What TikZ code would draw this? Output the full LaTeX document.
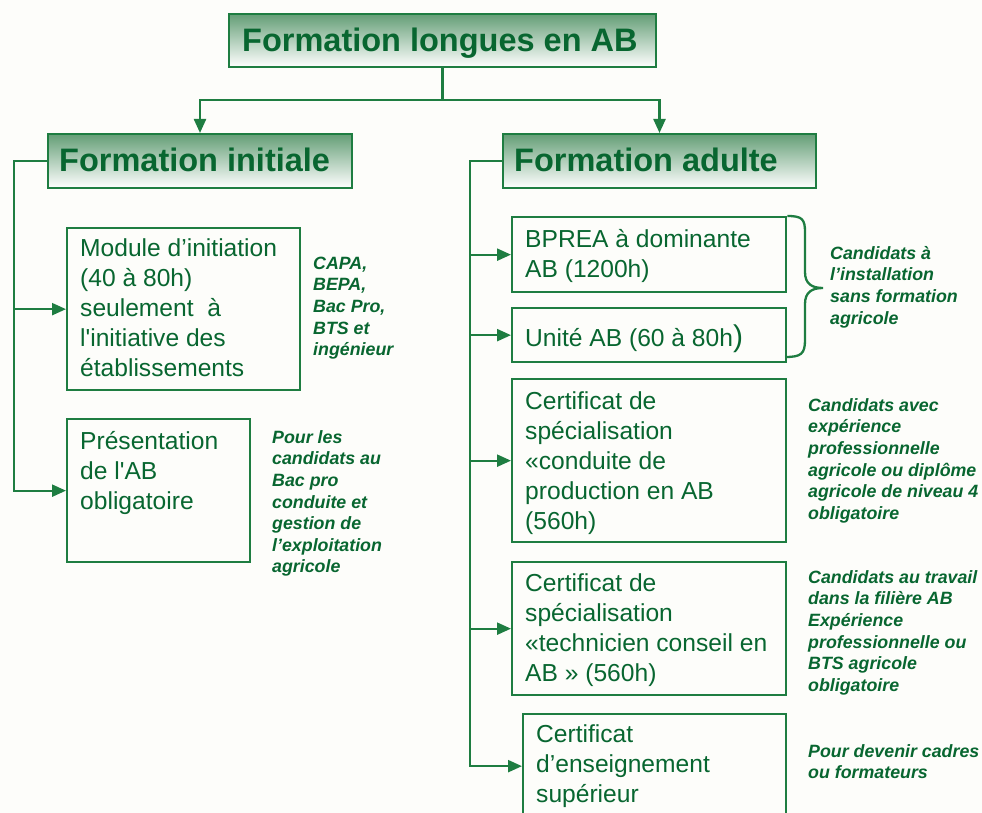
\documentclass[tikz,border=0pt]{standalone}
\usepackage{fontspec}
\setmainfont{Liberation Sans}
\usetikzlibrary{arrows.meta}
\definecolor{lgreen}{RGB}{30,125,65}
\definecolor{tgreen}{RGB}{8,102,48}
\definecolor{gtop}{RGB}{100,158,118}
\definecolor{bg}{RGB}{253,253,250}
\tikzset{
  box/.style={draw=lgreen, line width=2.3pt, anchor=north west, inner sep=0pt},
  hbox/.style={box, top color=gtop, bottom color=white, line width=2pt},
  ln/.style={draw=lgreen, line width=2.3pt},
  arr/.style={ln, -{Triangle[length=14pt,width=12pt]}},
  txt/.style={anchor=north west, inner sep=0pt, align=left, text=tgreen,
    font=\fontsize{24.6}{30}\selectfont},
  side/.style={anchor=north west, inner sep=0pt, align=left, text=tgreen,
    font=\fontsize{17.8}{21.6}\selectfont\bfseries\itshape},
  htxt/.style={anchor=base west, inner sep=0pt, text=tgreen,
    font=\fontsize{32.5}{36}\selectfont\bfseries}
}
\begin{document}
\begin{tikzpicture}[x=1pt,y=-1pt]
\path[use as bounding box, fill=bg] (0,0) rectangle (982,813);

% header boxes
\node[hbox, minimum width=427pt, minimum height=53pt] (top) at (228,13) {};
\node[hbox, minimum width=304pt, minimum height=54pt] (fi) at (47,133) {};
\node[hbox, minimum width=313pt, minimum height=54pt] (fa) at (502,133) {};
\node[htxt] (topT) at (242,52) {Formation longues en AB};
\node[htxt] (fiT) at (59,172) {Formation initiale};
\node[htxt] (faT) at (514,172) {Formation adulte};

% left boxes
\node[box, minimum width=233pt, minimum height=162pt] (module) at (66,227) {};
\node[box, minimum width=183pt, minimum height=143pt] (pres) at (66,418) {};
\node[txt] (moduleT) at (80,235) {\strut Module d’initiation\\(40 à 80h)\\seulement~ à\\l\textquotesingle initiative des\\établissements};
\node[txt] (presT) at (80,428) {\strut Présentation\\de l\textquotesingle AB\\obligatoire};

% right boxes
\node[box, minimum width=274pt, minimum height=75pt] (bprea) at (511,216) {};
\node[box, minimum width=274pt, minimum height=54pt] (unite) at (511,307) {};
\node[box, minimum width=274pt, minimum height=163pt] (csa) at (511,378) {};
\node[box, minimum width=274pt, minimum height=133pt] (csb) at (511,561) {};
\node[box, minimum width=263pt, minimum height=104pt] (ces) at (522,713) {};
\node[txt] (bpreaT) at (525,226) {\strut BPREA à dominante\\AB (1200h)};
\node[txt] (uniteT) at (525,325) {\strut Unité AB (60 à 80h{\fontsize{30}{30}\selectfont )}};
\node[txt] (csaT) at (525,388) {\strut Certificat de\\spécialisation\\«conduite de\\production en AB\\(560h)};
\node[txt] (csbT) at (525,570) {\strut Certificat de\\spécialisation\\«technicien conseil en\\AB » (560h)};
\node[txt] (cesT) at (536,721) {\strut Certificat\\d’enseignement\\supérieur};

% side notes
\node[side] (capa) at (313,254) {\strut CAPA,\\BEPA,\\Bac Pro,\\BTS et\\ingénieur};
\node[side] (presN) at (272,428) {\strut Pour les\\candidats au\\Bac pro\\conduite et\\gestion de\\l’exploitation\\agricole};
\node[side] (braceN) at (830,244) {\strut Candidats à\\l’installation\\sans formation\\agricole};
\node[side] (csaN) at (808,396) {\strut Candidats avec\\expérience\\professionnelle\\agricole ou diplôme\\agricole de niveau 4\\obligatoire};
\node[side] (csbN) at (808,568) {\strut Candidats au travail\\dans la filière AB\\Expérience\\professionnelle ou\\BTS agricole\\obligatoire};
\node[side] (cesN) at (808,742) {\strut Pour devenir cadres\\ou formateurs};

% brace
\draw[ln] (bprea.north east) .. controls (802,216) and (805,219) .. (805,232)
  -- (805,272) .. controls (805,284) and (812,288) .. (823,288)
  .. controls (812,288) and (805,292) .. (805,304)
  -- (805,340) .. controls (805,354) and (801,357) .. (785,357);

% connectors
\coordinate (hl) at (0,100);
\coordinate (lx) at (14,0);
\coordinate (rx) at (470,0);
\draw[arr] (top.south) |- (fi.north |- hl) -- (fi.north);
\draw[arr] (top.south) |- (fa.north |- hl) -- (fa.north);
\draw[arr] (fi.west) -- (lx |- fi.west) |- (pres.west);
\draw[arr] (lx |- module.west) -- (module.west);
\draw[arr] (fa.west) -- (rx |- fa.west) |- (ces.west);
\draw[arr] (rx |- bprea.west) -- (bprea.west);
\draw[arr] (rx |- unite.west) -- (unite.west);
\draw[arr] (rx |- csa.west) -- (csa.west);
\draw[arr] (rx |- csb.west) -- (csb.west);
\end{tikzpicture}
\end{document}
